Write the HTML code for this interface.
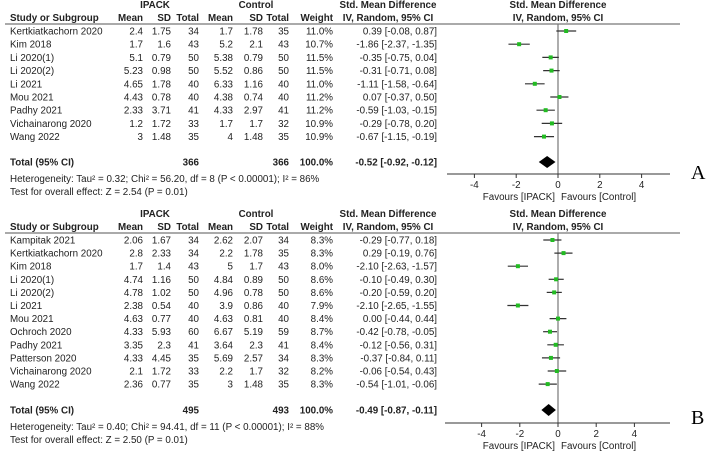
<!DOCTYPE html>
<html><head><meta charset="utf-8"><style>
html,body{margin:0;padding:0;background:#fff}
svg{display:block;font-family:"Liberation Sans",Arial,sans-serif}
</style></head><body>
<svg id="chart" width="710" height="453" viewBox="0 0 710 453"></svg>
<script>
// Panel A data
const studiesA = ["Kertkiatkachorn 2020","Kim 2018","Li 2020(1)","Li 2020(2)","Li 2021","Mou 2021","Padhy 2021","Vichainarong 2020","Wang 2022"];
const meanIA = ["2.4","1.7","5.1","5.23","4.65","4.43","2.33","1.2","3"];
const sdIA = ["1.75","1.6","0.79","0.98","1.78","0.78","3.71","1.72","1.48"];
const nIA = ["34","43","50","50","40","40","41","33","35"];
const meanCA = ["1.7","5.2","5.38","5.52","6.33","4.38","4.33","1.7","4"];
const sdCA = ["1.78","2.1","0.79","0.86","1.16","0.74","2.97","1.7","1.48"];
const nCA = ["35","43","50","50","40","40","41","32","35"];
const weightA = ["11.0%","10.7%","11.5%","11.5%","11.0%","11.2%","11.2%","10.9%","10.9%"];
const smdA = [0.39,-1.86,-0.35,-0.31,-1.11,0.07,-0.59,-0.29,-0.67];
const loA = [-0.08,-2.37,-0.75,-0.71,-1.58,-0.37,-1.03,-0.78,-1.15];
const hiA = [0.87,-1.35,0.04,0.08,-0.64,0.50,-0.15,0.20,-0.19];
const totalA = {nI:"366", nC:"366", smd:-0.52, lo:-0.92, hi:-0.12};
const hetA = "Heterogeneity: Tau² = 0.32; Chi² = 56.20, df = 8 (P < 0.00001); I² = 86%";
const testA = "Test for overall effect: Z = 2.54 (P = 0.01)";
// Panel B data
const studiesB = ["Kampitak 2021","Kertkiatkachorn 2020","Kim 2018","Li 2020(1)","Li 2020(2)","Li 2021","Mou 2021","Ochroch 2020","Padhy 2021","Patterson 2020","Vichainarong 2020","Wang 2022"];
const meanIB = ["2.06","2.8","1.7","4.74","4.78","2.38","4.63","4.33","3.35","4.33","2.1","2.36"];
const sdIB = ["1.67","2.33","1.4","1.16","1.02","0.54","0.77","5.93","2.3","4.45","1.72","0.77"];
const nIB = ["34","34","43","50","50","40","40","60","41","35","33","35"];
const meanCB = ["2.62","2.2","5","4.84","4.96","3.9","4.63","6.67","3.64","5.69","2.2","3"];
const sdCB = ["2.07","1.78","1.7","0.89","0.78","0.86","0.81","5.19","2.3","2.57","1.7","1.48"];
const nCB = ["34","35","43","50","50","40","40","59","41","34","32","35"];
const weightB = ["8.3%","8.3%","8.0%","8.6%","8.6%","7.9%","8.4%","8.7%","8.4%","8.3%","8.2%","8.3%"];
const smdB = [-0.29,0.29,-2.10,-0.10,-0.20,-2.10,0.00,-0.42,-0.12,-0.37,-0.06,-0.54];
const loB = [-0.77,-0.19,-2.63,-0.49,-0.59,-2.65,-0.44,-0.78,-0.56,-0.84,-0.54,-1.01];
const hiB = [0.18,0.76,-1.57,0.30,0.20,-1.55,0.44,-0.05,0.31,0.11,0.43,-0.06];
const totalB = {nI:"495", nC:"493", smd:-0.49, lo:-0.87, hi:-0.11};
const hetB = "Heterogeneity: Tau² = 0.40; Chi² = 94.41, df = 11 (P < 0.00001); I² = 88%";
const testB = "Test for overall effect: Z = 2.50 (P = 0.01)";
const ticks = [-4,-2,0,2,4];

const svg = document.getElementById('chart');
const NS = "http://www.w3.org/2000/svg";
const FS = 9.8;
function mk(tag, attrs, parent){const e=document.createElementNS(NS,tag);for(const k in attrs)e.setAttribute(k,attrs[k]);(parent||svg).appendChild(e);return e;}
function txt(x,y,s,anchor,bold,parent,size){const t=mk('text',{x:x,y:y,'font-size':size||FS,'text-anchor':anchor||'start',fill:'#222'},parent);if(bold)t.setAttribute('font-weight','bold');t.textContent=s;return t;}
function fmt(v){return v.toFixed(2);}

function panel(cfg){
  const g = mk('g',{});
  
  
  const x = v => cfg.x0 + v*cfg.scale;
  const H = cfg.top;
  txt(155,H+7,"IPACK","middle",true,g);
  txt(256,H+7,"Control","middle",true,g);
  txt(388,H+7,"Std. Mean Difference","middle",true,g);
  txt(558,H+7,"Std. Mean Difference","middle",true,g);
  const hy=H+20;
  txt(10,hy,"Study or Subgroup","start",true,g);
  txt(143,hy,"Mean","end",true,g);txt(171,hy,"SD","end",true,g);txt(199,hy,"Total","end",true,g);
  txt(233,hy,"Mean","end",true,g);txt(263,hy,"SD","end",true,g);txt(289,hy,"Total","end",true,g);
  txt(333,hy,"Weight","end",true,g);
  txt(388,hy,"IV, Random, 95% CI","middle",true,g);
  txt(558,hy,"IV, Random, 95% CI","middle",true,g);
  mk('line',{x1:5,y1:H+23,x2:680,y2:H+23,stroke:'#555','stroke-width':1},g);
  mk('line',{x1:x(0),y1:H+23,x2:x(0),y2:cfg.axisY,stroke:'#777','stroke-width':1.2},g);
  cfg.studies.forEach((s,i)=>{
    const y = H+30+i*cfg.step;
    const ty = y+3.5;
    txt(10,ty,s,"start",false,g);
    txt(143,ty,cfg.mI[i],"end",false,g);txt(171,ty,cfg.sI[i],"end",false,g);txt(199,ty,cfg.nI[i],"end",false,g);
    txt(233,ty,cfg.mC[i],"end",false,g);txt(263,ty,cfg.sC[i],"end",false,g);txt(289,ty,cfg.nC[i],"end",false,g);
    txt(333,ty,cfg.w[i],"end",false,g);
    txt(437,ty,fmt(cfg.smd[i])+" ["+fmt(cfg.lo[i])+", "+fmt(cfg.hi[i])+"]","end",false,g);
    const ci = mk('line',{x1:x(cfg.lo[i]),y1:y,x2:x(cfg.hi[i]),y2:y,stroke:'#333','stroke-width':1.2},g);
    
    
    const sq = mk('rect',{x:x(cfg.smd[i])-2,y:y-2,width:4,height:4,fill:'#22bb22'},g);
    
    
  });
  const Ty = cfg.totalY;
  txt(10,Ty+3.5,"Total (95% CI)","start",true,g);
  txt(199,Ty+3.5,cfg.total.nI,"end",true,g);
  txt(289,Ty+3.5,cfg.total.nC,"end",true,g);
  txt(333,Ty+3.5,"100.0%","end",true,g);
  txt(437,Ty+3.5,fmt(cfg.total.smd)+" ["+fmt(cfg.total.lo)+", "+fmt(cfg.total.hi)+"]","end",true,g);
  const d = mk('polygon',{points:`${x(cfg.total.lo)},${Ty} ${x(cfg.total.smd)},${Ty-6} ${x(cfg.total.hi)},${Ty} ${x(cfg.total.smd)},${Ty+6}`,fill:'#000'},g);
  
  
  txt(10,Ty+20,cfg.het,"start",false,g);
  txt(10,Ty+33,cfg.test,"start",false,g);
  const ay=cfg.axisY;
  mk('line',{x1:cfg.axStart,y1:ay,x2:670,y2:ay,stroke:'#333','stroke-width':1},g);
  ticks.forEach(t=>{
    mk('line',{x1:x(t),y1:ay,x2:x(t),y2:ay+4,stroke:'#333','stroke-width':1},g);
    txt(x(t),ay+14,String(t),"middle",false,g);
  });
  txt(x(0)-3,ay+26,"Favours [IPACK]","end",false,g);
  txt(x(0)+3,ay+26,"Favours [Control]","start",false,g);
  const L = mk('text',{x:691,y:cfg.labelY,'font-size':20,'font-family':'"Liberation Serif",serif',fill:'#000'},g);
  
  
  L.textContent=cfg.label;
}
panel({name:'panel-a',top:1,x0:558,scale:20.9,step:13.2,studies:studiesA,mI:meanIA,sI:sdIA,nI:nIA,mC:meanCA,sC:sdCA,nC:nCA,w:weightA,smd:smdA,lo:loA,hi:hiA,total:totalA,totalY:162,axisY:174,axStart:447,het:hetA,test:testA,label:"A",labelY:179});
panel({name:'panel-b',top:210,x0:558,scale:19.1,step:13.1,studies:studiesB,mI:meanIB,sI:sdIB,nI:nIB,mC:meanCB,sC:sdCB,nC:nCB,w:weightB,smd:smdB,lo:loB,hi:hiB,total:totalB,totalY:410,axisY:423,axStart:445,het:hetB,test:testB,label:"B",labelY:424});
</script>
</body></html>
